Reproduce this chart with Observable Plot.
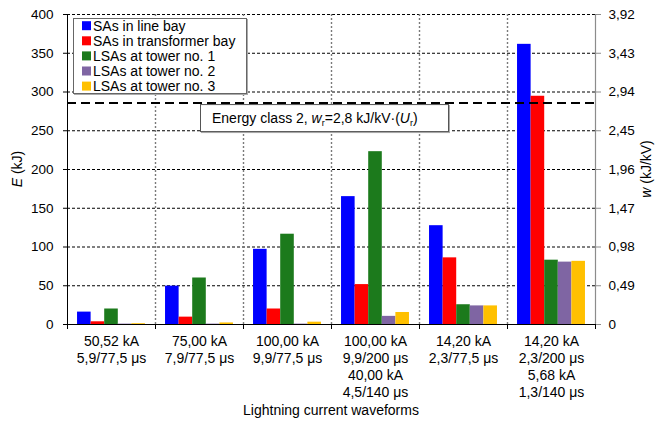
<!DOCTYPE html>
<html>
<head>
<meta charset="utf-8">
<script src="https://cdn.jsdelivr.net/npm/d3@7"></script>
<script src="https://cdn.jsdelivr.net/npm/@observablehq/plot@0.6"></script>
<style>
  body { margin: 0; background: #fff; }
  #chart { width: 655px; height: 423px; }
</style>
</head>
<body>
<div id="chart"></div>
<script>
// Lightning current waveforms (one group of bars each)
const categories = [
  "50,52 kA\n5,9/77,5 μs",
  "75,00 kA\n7,9/77,5 μs",
  "100,00 kA\n9,9/77,5 μs",
  "100,00 kA\n9,9/200 μs\n40,00 kA\n4,5/140 μs",
  "14,20 kA\n2,3/77,5 μs",
  "14,20 kA\n2,3/200 μs\n5,68 kA\n1,3/140 μs"
];

const seriesNames = [
  "SAs in line bay",
  "SAs in transformer bay",
  "LSAs at tower no. 1",
  "LSAs at tower no. 2",
  "LSAs at tower no. 3"
];
const seriesColors = ["#0000ff", "#ff0000", "#1c7a1c", "#7f65a3", "#ffc000"];

// Absorbed energy E (kJ) per waveform
const lineBay        = [16, 49.5, 97, 165, 127.5, 361.5];
const transformerBay = [3.5, 9.5, 20, 51.5, 86, 294.5];
const tower1         = [20, 60, 116.5, 223, 25.5, 83];
const tower2         = [0.5, 0.5, 0.5, 10.5, 24, 80.5];
const tower3         = [1, 2, 3, 15.5, 24, 81.5];

// Left axis (E, kJ) ticks and the matching right axis (w, kJ/kV) labels
const yTicks = [0, 50, 100, 150, 200, 250, 300, 350, 400];
const wTickLabels = ["0", "0,49", "0,98", "1,47", "1,96", "2,45", "2,94", "3,43", "3,92"];

// Energy class 2 rating, w_r in kJ/kV
const energyClassW = 2.8;

// --- derived -------------------------------------------------------------
const seriesValues = [lineBay, transformerBay, tower1, tower2, tower3];
const wMax = 3.92;
const eMax = yTicks[yTicks.length - 1];
const energyClassE = energyClassW * eMax / wMax;

const groupPad = 0.114;
const barW = (1 - 2 * groupPad) / seriesNames.length;
const rows = categories.flatMap((c, i) =>
  seriesValues.map((vals, j) => ({
    series: seriesNames[j],
    x1: i + groupPad + j * barW,
    x2: i + groupPad + (j + 1) * barW,
    E: vals[i]
  }))
);

const font = "'Liberation Sans', Arial, Helvetica, sans-serif";

const plot = Plot.plot({
  width: 655,
  height: 423,
  marginLeft: 67,
  marginRight: 60,
  marginTop: 14,
  marginBottom: 99,
  style: { fontFamily: font, fontSize: "13.5px", background: "white", color: "black" },
  x: { domain: [0, categories.length], axis: null },
  y: { domain: [0, eMax], axis: null },
  color: { domain: seriesNames, range: seriesColors },
  marks: [
    Plot.gridY(yTicks.slice(1), { stroke: "black", strokeOpacity: 1, strokeDasharray: "3,2" }),
    Plot.gridX(d3.range(1, categories.length), { stroke: "#7a7a7a", strokeOpacity: 1, strokeWidth: 1.4, strokeDasharray: "2,2" }),
    Plot.rectY(rows, { x1: "x1", x2: "x2", y1: 0, y2: "E", fill: "series" }),
    Plot.ruleX([categories.length], { stroke: "#8c8c8c", strokeWidth: 1.2 }),
    Plot.ruleX([0], { stroke: "black" }),
    Plot.ruleY([0], { stroke: "black" }),
    Plot.axisY(yTicks, { anchor: "left", tickSize: 4, tickPadding: 10, label: null }),
    Plot.axisY(yTicks, {
      anchor: "right", tickSize: 5, tickPadding: 8, stroke: "#8c8c8c", fill: "black",
      tickFormat: d => wTickLabels[yTicks.indexOf(d)], label: null
    }),
    Plot.axisX(d3.range(categories.length + 1), { anchor: "bottom", tickSize: 5, tickFormat: () => "", label: null }),
    Plot.ruleY([energyClassE], { stroke: "black", strokeWidth: 2, strokeDasharray: "9,5" }),
    Plot.text(categories, {
      x: (d, i) => i + 0.5, y: 0, dy: 9, lineAnchor: "top", lineHeight: 1.22,
      fontSize: 14, text: d => d
    })
  ]
});

document.getElementById("chart").append(plot);

const svg = d3.select(plot);
const ys = plot.scale("y");
const color = plot.scale("color");

// Axis titles
svg.append("text")
  .attr("transform", "translate(22,169) rotate(-90)")
  .attr("text-anchor", "middle")
  .style("font-size", "14px")
  .call(t => {
    t.append("tspan").style("font-style", "italic").text("E");
    t.append("tspan").text(" (kJ)");
  });

svg.append("text")
  .attr("transform", "translate(651,169) rotate(-90)")
  .attr("text-anchor", "middle")
  .style("font-size", "14px")
  .call(t => {
    t.append("tspan").style("font-style", "italic").text("w");
    t.append("tspan").text(" (kJ/kV)");
  });

svg.append("text")
  .attr("x", 331)
  .attr("y", 415)
  .attr("text-anchor", "middle")
  .style("font-size", "14px")
  .text("Lightning current waveforms");

// Energy class annotation below the dashed line
const boxTop = ys.apply(energyClassE) + 1.5;
const ann = svg.append("g").attr("text-anchor", "start");
ann.append("rect")
  .attr("x", 200.5).attr("y", boxTop + 0.5)
  .attr("width", 248).attr("height", 27)
  .attr("fill", "white").attr("stroke", "#555")
  .style("filter", "drop-shadow(1px 1px 0 #aaa)");
ann.append("text")
  .attr("x", 212).attr("y", boxTop + 19)
  .attr("text-anchor", "start")
  .style("font-size", "14px")
  .call(t => {
    t.append("tspan").text("Energy class 2, ");
    t.append("tspan").style("font-style", "italic").text("w");
    t.append("tspan").attr("dy", 3).style("font-size", "9px").text("r");
    t.append("tspan").attr("dy", -3).text(`=${String(energyClassW).replace(".", ",")} kJ/kV·(`);
    t.append("tspan").style("font-style", "italic").text("U");
    t.append("tspan").attr("dy", 3).style("font-size", "9px").text("r");
    t.append("tspan").attr("dy", -3).text(")");
  });

// Legend
const leg = svg.append("g").attr("text-anchor", "start");
leg.append("rect")
  .attr("x", 73.5).attr("y", 18.5)
  .attr("width", 173).attr("height", 75)
  .attr("fill", "white").attr("stroke", "#666")
  .style("filter", "drop-shadow(1px 1px 0 #aaa)");
seriesNames.forEach((name, i) => {
  const cy = 25.7 + i * 15.1;
  leg.append("rect")
    .attr("x", 82).attr("y", cy - 4.5)
    .attr("width", 9).attr("height", 9)
    .attr("fill", color.apply(name));
  leg.append("text")
    .attr("x", 93).attr("y", cy + 5)
    .attr("text-anchor", "start")
    .style("font-size", "14px")
    .text(name);
});
</script>
</body>
</html>
